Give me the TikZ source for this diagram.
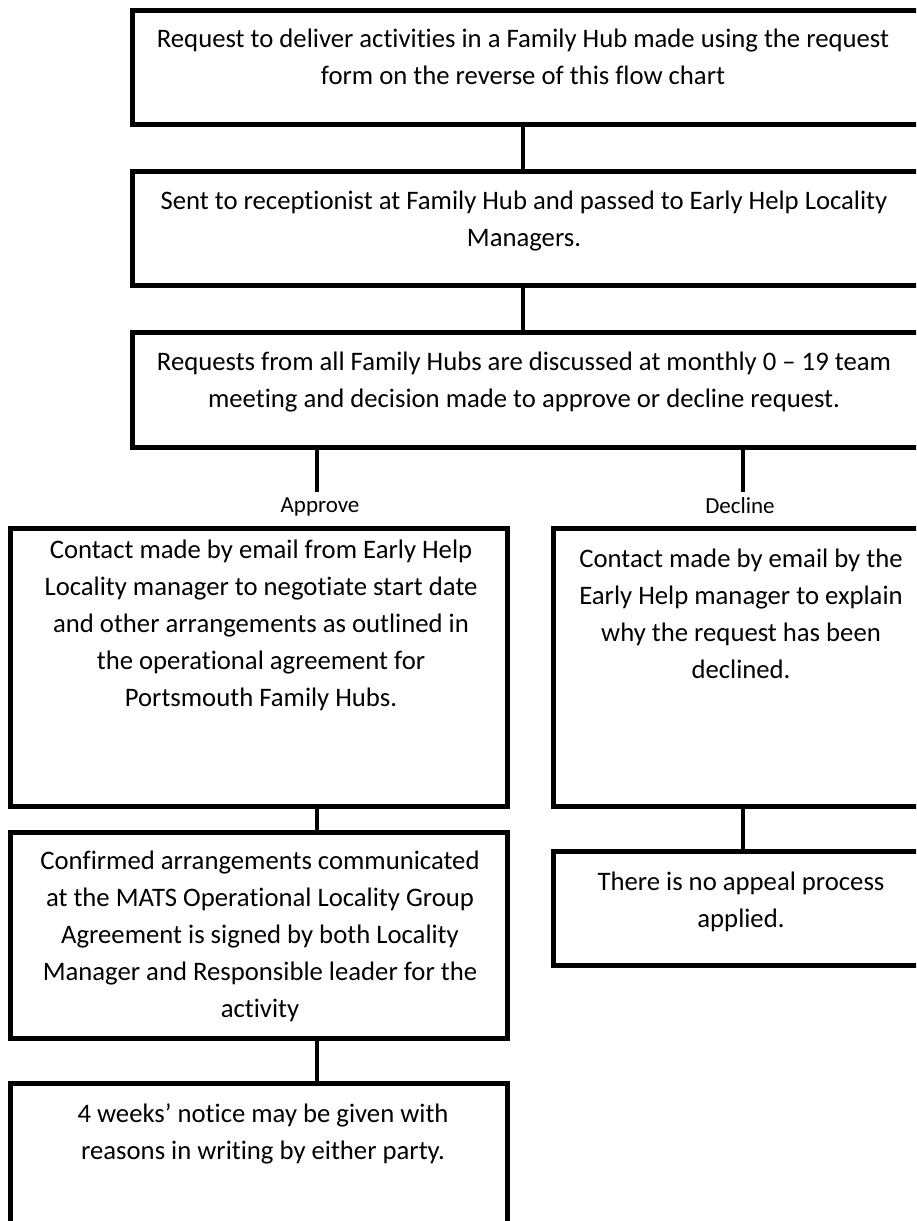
\documentclass[tikz,border=0pt]{standalone}
\usepackage{fontspec}
\setmainfont{Carlito}[Ligatures=NoCommon]
\begin{document}
\begin{tikzpicture}[x=1pt, y=-1pt,
  flowbox/.style={draw, line width=5pt, inner sep=0pt},
  boxtext/.style={anchor=base, align=flush center, text width=800pt, inner sep=0pt, font=\fontsize{26.7}{37}\selectfont},
  choice/.style={anchor=base, inner xsep=0pt, inner ysep=5pt, font=\fontsize{23}{28}\selectfont},
  link/.style={line width=4pt}]

\clip (0,0) rectangle (916,1221);

\coordinate (spine) at (523,0);
\coordinate (leftspine) at (317,0);
\coordinate (rightspine) at (743,0);

\node [flowbox, minimum width=793pt, minimum height=114pt] (request) at (528.5,67) {};
\node [flowbox, minimum width=793pt, minimum height=114pt] (sent) at (528.5,228) {};
\node [flowbox, minimum width=793pt, minimum height=115pt] (meeting) at (528.5,389.5) {};
\node [flowbox, minimum width=497pt, minimum height=278pt] (contact) at (258.5,667) {};
\node [flowbox, minimum width=376pt, minimum height=278pt] (explain) at (741,667) {};
\node [flowbox, minimum width=497pt, minimum height=206pt] (confirm) at (258.5,935) {};
\node [flowbox, minimum width=376pt, minimum height=114pt] (appeal) at (741,908) {};
\node [flowbox, minimum width=497pt, minimum height=160pt] (notice) at (258.5,1163) {};

\node [boxtext] (request text) at (523,47) {Request to deliver activities in a Family Hub made using the request\\form on the reverse of this flow chart};
\node [boxtext] (sent text) at (524,209) {Sent to receptionist at Family Hub and passed to Early Help Locality\\Managers.};
\node [boxtext] (meeting text) at (524,370) {Requests from all Family Hubs are discussed at monthly 0 – 19 team\\meeting and decision made to approve or decline request.};
\node [boxtext] (contact text) at (261,558) {Contact made by email from Early Help\\Locality manager to negotiate start date\\and other arrangements as outlined in\\the operational agreement for\\Portsmouth Family Hubs.};
\node [boxtext] (explain text) at (741,567) {Contact made by email by the\\Early Help manager to explain\\why the request has been\\declined.};
\node [boxtext] (confirm text) at (260,869) {Confirmed arrangements communicated\\at the MATS Operational Locality Group\\Agreement is signed by both Locality\\Manager and Responsible leader for the\\activity};
\node [boxtext] (appeal text) at (741,890) {There is no appeal process\\applied.};
\node [boxtext] (notice text) at (263,1122) {4 weeks’ notice may be given with\\reasons in writing by either party.};

\node [choice] (approve) at (320,512) {Approve};
\node [choice, fill=white, minimum width=174pt, text depth=8pt] (decline) at (740,513) {Decline};

\draw [link] (request.south -| spine) -- (sent.north -| spine);
\draw [link] (sent.south -| spine) -- (meeting.north -| spine);
\draw [link] (meeting.south -| leftspine) -- (approve.north -| leftspine);
\draw [link] (meeting.south -| rightspine) -- (decline.north -| rightspine);
\draw [link] (contact.south -| leftspine) -- (confirm.north -| leftspine);
\draw [link] (explain.south -| rightspine) -- (appeal.north -| rightspine);
\draw [link] (confirm.south -| leftspine) -- (notice.north -| leftspine);

\end{tikzpicture}
\end{document}
